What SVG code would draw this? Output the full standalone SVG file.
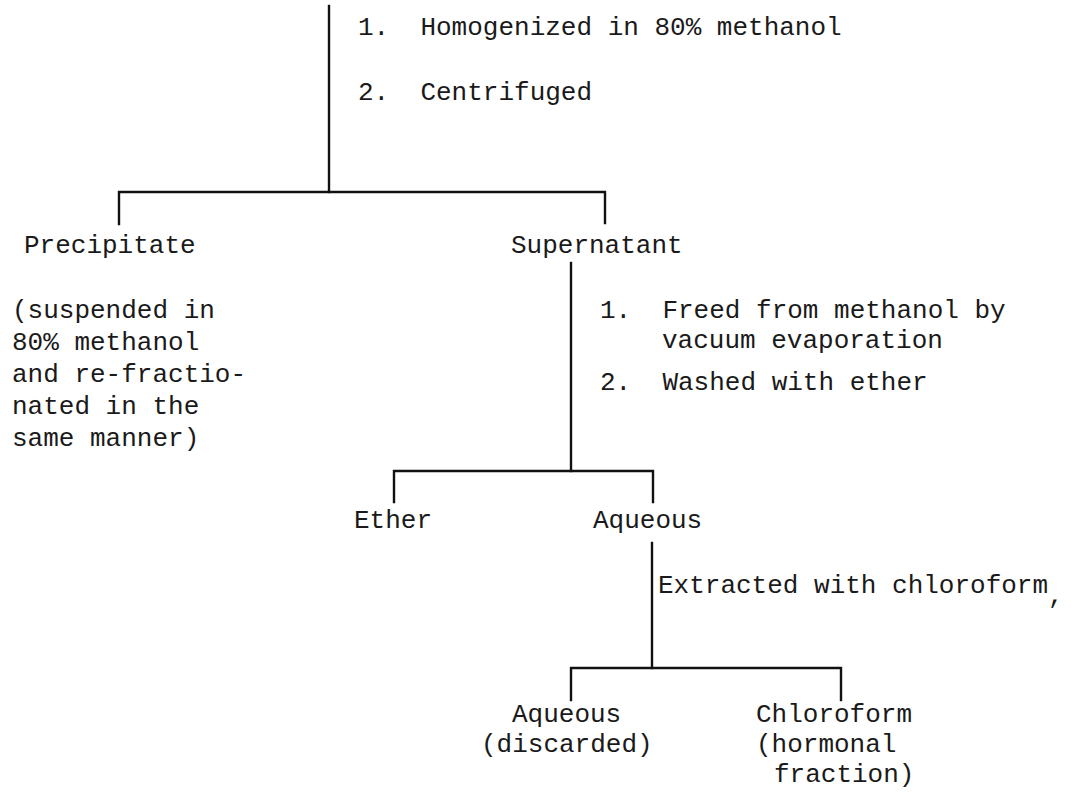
<svg xmlns="http://www.w3.org/2000/svg" width="1071" height="794" viewBox="0 0 1071 794">
<style>
  .t { font-family: "Liberation Mono", "DejaVu Sans Mono", monospace; font-size: 26px; fill: #1a1a1a; }
  .c { stroke: #111; stroke-width: 2.4; fill: none; stroke-linecap: square; stroke-linejoin: miter; }
</style>
<rect width="1071" height="794" fill="#ffffff"/>
<g id="connectors">
  <path class="c" d="M329 6 V192"/>
  <path class="c" d="M119 224 V192 H605 V223"/>
  <path class="c" d="M571 263 V471"/>
  <path class="c" d="M394 502 V471 H653 V502"/>
  <path class="c" d="M652 543 V668"/>
  <path class="c" d="M571 700 V668 H841 V700"/>
</g>
<g id="step1">
  <text class="t" x="358" y="35" xml:space="preserve">1.  Homogenized in 80% methanol</text>
  <text class="t" x="358" y="100" xml:space="preserve">2.  Centrifuged</text>
</g>
<g id="precipitate">
  <text class="t" x="24" y="253">Precipitate</text>
  <text class="t" x="12" y="318">(suspended in</text>
  <text class="t" x="12" y="350">80% methanol</text>
  <text class="t" x="12" y="382">and re-fractio-</text>
  <text class="t" x="12" y="414">nated in the</text>
  <text class="t" x="12" y="446">same manner)</text>
</g>
<g id="supernatant">
  <text class="t" x="511" y="253">Supernatant</text>
</g>
<g id="step2">
  <text class="t" x="600" y="318" xml:space="preserve">1.  Freed from methanol by</text>
  <text class="t" x="662" y="348">vacuum evaporation</text>
  <text class="t" x="600" y="390" xml:space="preserve">2.  Washed with ether</text>
</g>
<g id="ether">
  <text class="t" x="354" y="528">Ether</text>
</g>
<g id="aqueous1">
  <text class="t" x="593" y="528">Aqueous</text>
</g>
<g id="step3">
  <text class="t" x="658" y="593">Extracted with chloroform<tspan dy="10">,</tspan></text>
</g>
<g id="aqueous2">
  <text class="t" x="512" y="722">Aqueous</text>
  <text class="t" x="481" y="752">(discarded)</text>
</g>
<g id="chloroform">
  <text class="t" x="756" y="722">Chloroform</text>
  <text class="t" x="756" y="752">(hormonal</text>
  <text class="t" x="774" y="782">fraction)</text>
</g>
</svg>
